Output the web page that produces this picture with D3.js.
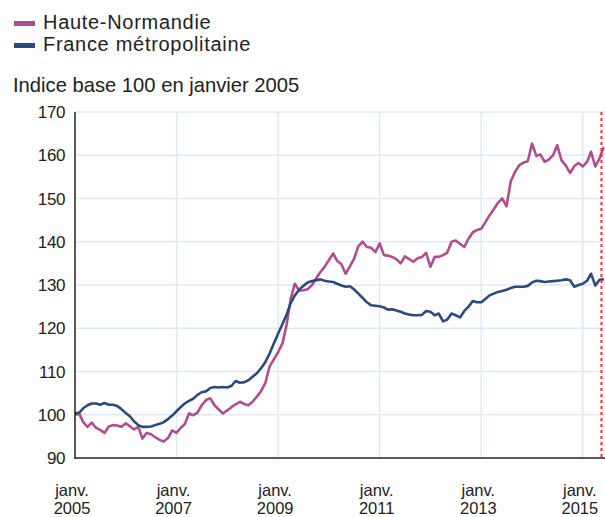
<!DOCTYPE html>
<html>
<head>
<meta charset="utf-8">
<script src="https://cdn.jsdelivr.net/npm/d3@7"></script>
<style>
  html, body { margin: 0; padding: 0; background: #fff; }
  svg { display: block; font-family: "Liberation Sans", Arial, sans-serif; }
</style>
</head>
<body>
<div id="chart"></div>
<script>
// ============================================================
// Indice base 100 en janvier 2005 - données mensuelles
// ============================================================

// séries (une valeur par mois, à partir de janvier 2005)
const hauteNormandie = [
  100.0, 100.2, 98.3, 97.2, 98.2, 97.0, 96.5, 95.8, 97.3, 97.6, 97.5, 97.2,
  98.0, 97.3, 96.6, 97.2, 94.5, 95.8, 95.5, 94.8, 94.2, 93.8, 94.6, 96.4,
  95.8, 97.0, 97.8, 100.3, 99.9, 100.5, 102.2, 103.4, 103.8, 102.2, 101.2, 100.3,
  101.0, 101.8, 102.4, 103.0, 102.5, 102.2, 103.0, 104.2, 105.5, 107.4, 111.2, 112.8,
  114.5, 116.5, 120.5, 126.8, 130.3, 128.7, 128.8, 129.0, 130.0, 131.5, 133.0, 134.2,
  135.8, 137.3, 135.6, 134.8, 132.6, 134.3, 136.1, 139.0, 140.0, 138.8, 138.6, 137.6,
  139.6, 136.9, 136.8, 136.5, 136.0, 135.0, 136.6, 136.0, 135.4, 136.2, 136.5, 137.4,
  134.2, 136.5, 136.5, 136.9, 137.5, 140.0, 140.3, 139.5, 138.8, 140.7, 142.2, 142.7,
  143.0, 144.6, 146.1, 147.5, 149.0, 150.0, 148.2, 154.0, 156.2, 157.7, 158.3, 158.6,
  162.7, 159.8, 160.2, 158.5, 159.0, 160.0, 162.3, 158.8, 157.6, 155.9, 157.5, 158.2,
  157.4, 158.5, 160.8, 157.4, 159.3, 161.9
];

const franceMetro = [
  100.3, 100.5, 101.5, 102.2, 102.6, 102.6, 102.3, 102.7, 102.3, 102.3, 102.0, 101.3,
  100.4, 99.6, 98.5, 97.6, 97.2, 97.2, 97.3, 97.6, 97.9, 98.3, 99.0, 99.8,
  100.8, 101.8, 102.6, 103.2, 103.7, 104.6, 105.2, 105.4, 106.2, 106.4, 106.3, 106.4,
  106.3, 106.7, 107.8, 107.4, 107.5, 108.0, 108.8, 109.6, 110.8, 112.2, 114.2, 116.5,
  118.8, 121.0, 123.0, 125.8, 127.6, 128.9, 129.8, 130.6, 130.9, 131.1, 131.3, 131.0,
  130.8, 130.7, 130.3, 129.9, 129.6, 129.7, 129.0, 128.0, 127.0, 126.0, 125.3, 125.2,
  125.1, 124.8, 124.3, 124.4, 124.1, 123.8, 123.4, 123.2, 123.0, 123.0, 123.1, 124.0,
  123.8, 123.0, 123.4, 121.6, 122.0, 123.4, 123.0, 122.5, 124.0, 125.0, 126.3, 126.0,
  126.0, 126.8, 127.6, 128.0, 128.4, 128.6, 128.9, 129.3, 129.6, 129.6, 129.6, 129.8,
  130.6, 131.0, 130.9, 130.7, 130.8, 130.9, 131.0, 131.1, 131.3, 131.1, 129.6, 130.0,
  130.3, 131.0, 132.6, 129.9, 131.2, 131.3
];

const seriesNames = ['Haute-Normandie', 'France métropolitaine'];
const seriesColors = ['#b04d8e', '#2c4a7c'];
const yTicks = [90, 100, 110, 120, 130, 140, 150, 160, 170];
const xTickYears = [2005, 2007, 2009, 2011, 2013, 2015];

// dimensions
const W = 605, H = 517;
const M = { left: 75, top: 112, bottom: 458, right: 608 };

const svg = d3.select('#chart').append('svg')
  .attr('width', W).attr('height', H);

const x = d3.scaleTime()
  .domain([new Date(2005, 0, 1), new Date(2015, 6, 1)])
  .range([M.left, M.right]);
const y = d3.scaleLinear().domain([90, 170]).range([M.bottom, M.top]);

const toPoints = (arr) => arr.map((v, i) => ({ date: new Date(2005, i, 1), value: v }));

// grille
const grid = svg.append('g').attr('stroke', '#dde9f8').attr('stroke-width', 1.5);
grid.selectAll('.hgrid').data(yTicks.slice(1)).enter().append('line')
  .attr('x1', M.left).attr('x2', W)
  .attr('y1', d => y(d)).attr('y2', d => y(d));
grid.selectAll('.vgrid').data(xTickYears.slice(1)).enter().append('line')
  .attr('x1', d => x(new Date(d, 0, 1))).attr('x2', d => x(new Date(d, 0, 1)))
  .attr('y1', M.top).attr('y2', M.bottom);

// lignes
const line = d3.line().x(d => x(d.date)).y(d => y(d.value));
[hauteNormandie, franceMetro].forEach((s, i) => {
  svg.append('path')
    .datum(toPoints(s))
    .attr('fill', 'none')
    .attr('stroke', seriesColors[i])
    .attr('stroke-width', 2.6)
    .attr('stroke-linejoin', 'round')
    .attr('d', line);
});

// repère vertical pointillé
svg.append('line')
  .attr('x1', x(new Date(2015, 4, 15))).attr('x2', x(new Date(2015, 4, 15)))
  .attr('y1', M.top).attr('y2', M.bottom)
  .attr('stroke', '#ff2a2a').attr('stroke-width', 2)
  .attr('stroke-dasharray', '3,3');

// axes
svg.append('line').attr('x1', M.left).attr('x2', M.left)
  .attr('y1', M.top).attr('y2', M.bottom + 1)
  .attr('stroke', '#222').attr('stroke-width', 1.5);
svg.append('line').attr('x1', M.left).attr('x2', W)
  .attr('y1', M.bottom).attr('y2', M.bottom)
  .attr('stroke', '#222').attr('stroke-width', 1.5);

svg.selectAll('.ytick').data(yTicks).enter().append('text')
  .attr('x', 65).attr('y', d => y(d) + 6)
  .attr('text-anchor', 'end')
  .attr('font-size', 17).attr('letter-spacing', -0.4)
  .attr('fill', '#222')
  .text(d => d);

// étiquettes de l'axe x : "janv." puis l'année
const xg = svg.selectAll('.xtick').data(xTickYears).enter().append('g');
xg.append('text')
  .attr('x', d => x(new Date(d, 0, 1)) - 3).attr('y', 495.5)
  .attr('text-anchor', 'middle').attr('font-size', 16.5).attr('fill', '#222')
  .text('janv.');
xg.append('text')
  .attr('x', d => x(new Date(d, 0, 1)) - 3).attr('y', 514)
  .attr('text-anchor', 'middle').attr('font-size', 16.5).attr('fill', '#222')
  .text(d => d);

// légende
const leg = svg.selectAll('.leg').data(seriesNames).enter().append('g')
  .attr('transform', (d, i) => `translate(14, ${21 + i * 22})`);
leg.append('rect').attr('width', 21).attr('height', 5)
  .attr('fill', (d, i) => seriesColors[i]);
leg.append('text').attr('x', 29).attr('y', 7.5)
  .attr('font-size', 20).attr('letter-spacing', 0.7).attr('fill', '#222')
  .text(d => d);

svg.append('text').attr('x', 13).attr('y', 92)
  .attr('font-size', 20.2).attr('fill', '#222')
  .text('Indice base 100 en janvier 2005');
</script>
</body>
</html>
